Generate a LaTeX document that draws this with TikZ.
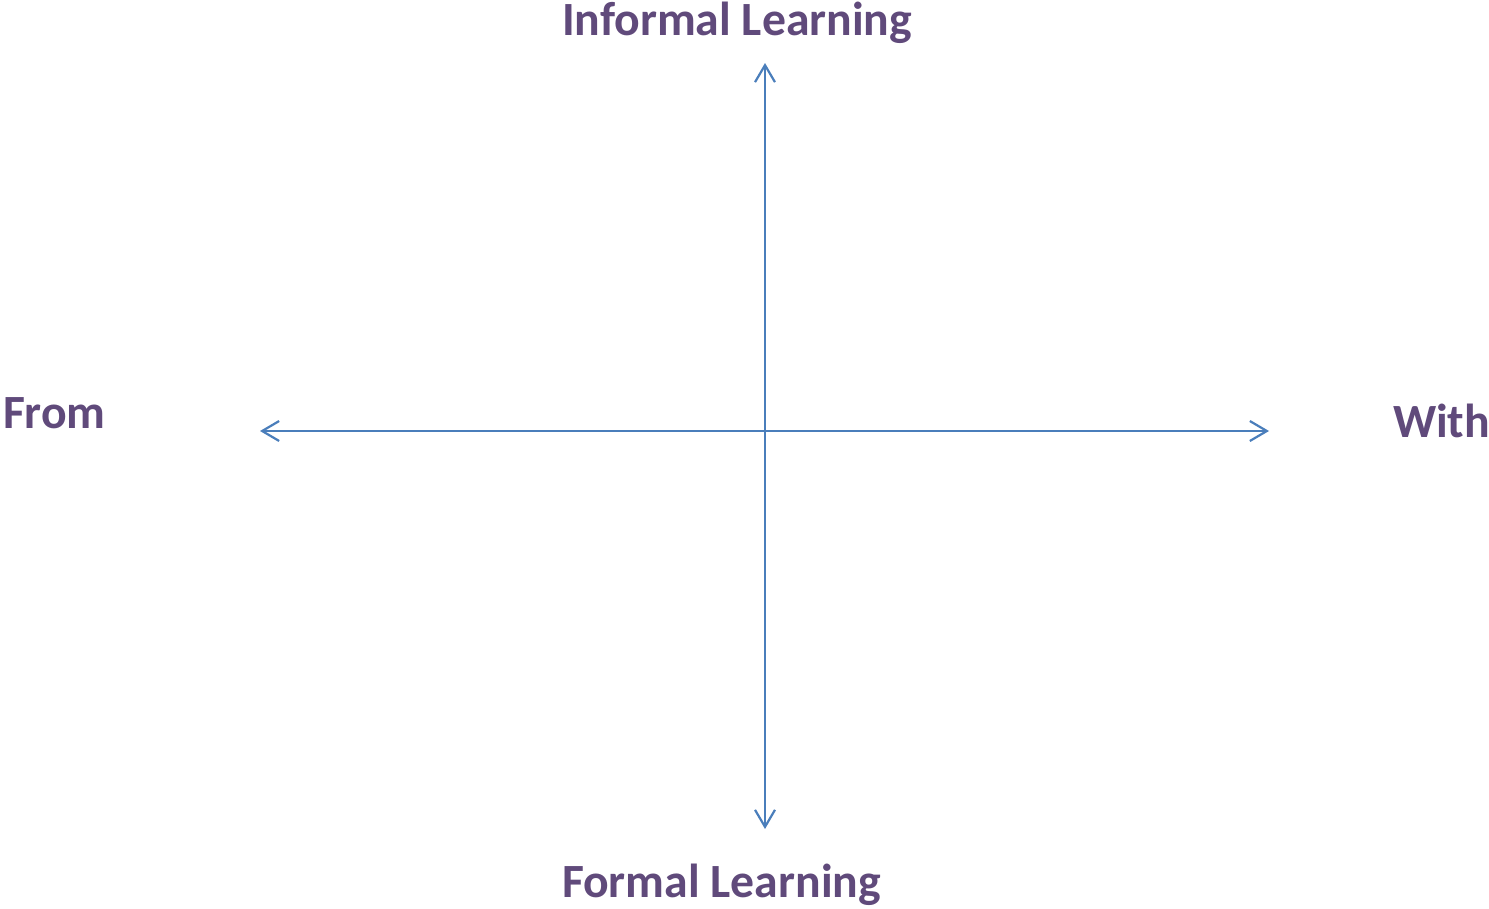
\documentclass[tikz,border=0pt]{standalone}
\usepackage{fontspec}
\setmainfont{Carlito}
\usetikzlibrary{arrows.meta}
\definecolor{labelpurple}{HTML}{604A7B}
\definecolor{axisblue}{HTML}{4A7EBB}
\begin{document}
\begin{tikzpicture}[x=1pt,y=-1pt,
  lbl/.style={anchor=base west,inner sep=0pt,outer sep=0pt,text=labelpurple,font=\fontsize{47.7}{57}\selectfont\bfseries},
  axis/.style={draw=axisblue,line width=2.2pt,{Straight Barb[length=17pt,width=20pt,line width=2.2pt]}-{Straight Barb[length=17pt,width=20pt,line width=2.2pt]}}]
\useasboundingbox (0,0) rectangle (1489,908);
\node[lbl] (top) at (562,35) {Informal Learning};
\node[lbl] (bottom) at (562,897) {Formal Learning};
\node[lbl] (left) at (3,428) {From};
\node[lbl] (right) at (1393,437) {With};
\coordinate (vtop) at (765,63);
\coordinate (vbot) at (765,829);
\coordinate (hleft) at (260,431);
\coordinate (hright) at (1269,431);
\draw[axis] (vbot) -- (vtop);
\draw[axis] (hleft) -- (hright);
\end{tikzpicture}
\end{document}
